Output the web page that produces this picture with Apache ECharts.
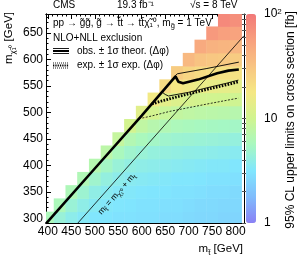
<!DOCTYPE html>
<html><head><meta charset="utf-8">
<script src="https://cdn.jsdelivr.net/npm/echarts@6/dist/echarts.min.js"></script>
<style>html,body{margin:0;padding:0;background:#fff}#c{width:305px;height:258px}</style>
</head><body><div id="c"></div>
<script>
// ---- data ----
const mStop = [400,425,450,475,500,525,550,575,600,625,650,675,700,725,750,775,800];
const mChiRows = [300,325,350,375,400,425,450,475,500,525,550,575,600,625,650,675,700];
// 95% CL upper limits [fb]; row i starts at column m_stop = m_chi + 100
const limitRows = [
  [6.0,4.5,3.8,3.4,3.2,3.1,3.0,3.0,2.9,2.9,2.8,2.8,2.7,2.6,2.6,2.5,2.5],
  [6.0,4.6,3.9,3.5,3.3,3.2,3.1,3.0,3.0,2.9,2.9,2.8,2.7,2.7,2.6,2.6],
  [6.1,4.8,4.0,3.6,3.4,3.3,3.2,3.1,3.1,3.0,3.0,2.9,2.8,2.8,2.7],
  [6.3,5.0,4.2,3.8,3.6,3.5,3.4,3.3,3.2,3.2,3.1,3.0,3.0,2.9],
  [6.8,5.3,4.5,4.1,3.9,3.8,3.7,3.6,3.5,3.4,3.3,3.3,3.2],
  [7.5,5.8,5.0,4.6,4.3,4.2,4.1,4.0,3.9,3.8,3.7,3.6],
  [8.5,6.6,5.8,5.3,5.0,4.8,4.7,4.6,4.5,4.4,4.3],
  [10.5,8.0,7.0,6.4,6.0,5.8,5.6,5.5,5.4,5.3],
  [13,10.5,9.0,8.3,7.9,7.6,7.4,7.2,7.0],
  [17,13.5,12,11,10.5,10.2,10,9.8],
  [22,18,16,15,14.5,14,13.5],
  [28,24,22,21,20,19.5],
  [38,32,30,29,28],
  [48,42,40,39],
  [62,56,54],
  [78,72],
  [88]
];
const obsLine  = [[396,290],[500,394],[600,494],[672,568],[678,558],[688,555],[720,562],[761,574],[785,579],[807,581]];
const obsUp    = [[671,569],[676,573],[739,583],[807,595]];
const obsDown  = [[644,538],[650,534],[657,531],[700,538],[746,548],[780,555],[806,561]];
const expLine  = [[622,516],[640,521],[661,526],[700,535],[746,545],[780,552],[806,558]];
const expDown  = [[594,488],[620,493],[660,502],[700,509],[746,517],[806,527]];
const kinLine  = [[464,291],[818,645]];
const xTickLabels = [400,450,500,550,600,650,700,750,800];
const yTickLabels = [300,350,400,450,500,550,600,650];
const zTickLabels = [0,1,2]; // log10 of 1, 10, 100 fb

// ---- build ----
const FONT = 'Liberation Sans';
const cells = [];
limitRows.forEach((row, i) => {
  row.forEach((v, j) => {
    cells.push([mStop[i + j], mChiRows[i], Math.log10(v)]);
  });
});
const xMinor = []; for (let v = 400; v <= 810; v += 10) xMinor.push(v);
const yMinor = []; for (let v = 300; v <= 680; v += 10) yMinor.push(v);
const zMinor = [];
[1,10].forEach(b => { for (let k = 1; k < 10; k++) zMinor.push(Math.log10(b * k)); });
zMinor.push(2);

const palette = ['#8a80f5','#80bcfc','#80e6fe','#a8f8c0','#d0f490','#f5e884','#f8c482','#f8a07e','#f27878'];

const XMIN = 396, XMAX = 818, YMIN = 291, YMAX = 686;
const black = '#000';
function xAx(pos, ticks, len, labels) {
  return {
    type: 'value', gridIndex: 0, position: pos, min: XMIN, max: XMAX,
    axisLine: { show: true, lineStyle: { color: black, width: 1 } },
    axisTick: { show: true, inside: true, length: len, customValues: ticks, lineStyle: { color: black, width: 1 } },
    axisLabel: labels ? { show: true, customValues: xTickLabels, color: black, fontFamily: FONT, fontSize: 12, margin: 3 } : { show: false },
    splitLine: { show: false }
  };
}
function yAx(pos, ticks, len, labels) {
  return {
    type: 'value', gridIndex: 0, position: pos, min: YMIN, max: YMAX,
    axisLine: { show: true, lineStyle: { color: black, width: 1 } },
    axisTick: ticks ? { show: true, inside: true, length: len, customValues: ticks, lineStyle: { color: black, width: 1 } } : { show: false },
    axisLabel: labels ? { show: true, customValues: yTickLabels, color: black, fontFamily: FONT, fontSize: 12, margin: 3 } : { show: false },
    splitLine: { show: false }
  };
}

const lineSeries = (data, width, type) => ({
  type: 'line', xAxisIndex: 0, yAxisIndex: 0, data: data, showSymbol: false, silent: true,
  lineStyle: { color: black, width: width, type: type || 'solid' }, z: 5
});

const chart = echarts.init(document.getElementById('c'), null, { renderer: 'canvas' });
const sub = (fs, lh) => ({ fontSize: fs, fontFamily: FONT, verticalAlign: 'bottom', lineHeight: lh, fill: black });
const T = (o) => Object.assign({ z: 100 }, o);
const LF = 10;
const option = {
  animation: false,
  backgroundColor: '#fff',
  grid: [
    { left: 46, top: 14, width: 198, height: 209 },
    { left: 246, top: 14, width: 10, height: 209 }
  ],
  xAxis: [
    xAx('bottom', xTickLabels, 5, true),
    xAx('bottom', xMinor, 2.5, false),
    xAx('top', xTickLabels, 5, false),
    xAx('top', xMinor, 2.5, false),
    { type: 'value', gridIndex: 1, show: false, min: 0, max: 1 }
  ],
  yAxis: [
    yAx('left', yTickLabels, 5, true),
    yAx('left', yMinor, 2.5, false),
    yAx('right', null, 0, false),
    {
      type: 'value', gridIndex: 1, position: 'left', min: 0, max: 2,
      axisLine: { show: false },
      axisTick: { show: true, inside: false, length: 4, customValues: zMinor, lineStyle: { color: '#555', width: 1 } },
      axisLabel: { show: false }, splitLine: { show: false }
    },
    {
      type: 'value', gridIndex: 1, position: 'right', min: 0, max: 2,
      axisLine: { show: false }, axisTick: { show: false }, splitLine: { show: false },
      axisLabel: {
        show: true, customValues: zTickLabels, margin: 8, color: black, fontFamily: FONT, fontSize: 12,
        formatter: v => v === 2 ? '10{s|2}' : (v === 1 ? '10' : '1'),
        rich: { s: { fontSize: 8, fontFamily: FONT, verticalAlign: 'top', color: black } }
      }
    }
  ],
  visualMap: {
    type: 'continuous', min: 0, max: 2, dimension: 2, seriesIndex: 0,
    left: 246, top: 14, itemWidth: 10, itemHeight: 209, padding: 0,
    calculable: false, showLabel: false, text: null, hoverLink: false,
    inRange: { color: palette }
  },
  series: [
    {
      type: 'custom', xAxisIndex: 0, yAxisIndex: 0, data: cells, clip: true, silent: true,
      encode: { x: 0, y: 1 },
      renderItem: function (params, api) {
        const x = api.value(0), y = api.value(1);
        const p0 = api.coord([x - 12.5, y + 12.5]);
        const p1 = api.coord([x + 12.5, y - 12.5]);
        return {
          type: 'rect',
          shape: { x: p0[0], y: p0[1], width: p1[0] - p0[0] + 0.5, height: p1[1] - p0[1] + 0.5 },
          style: { fill: api.visual('color') }
        };
      },
      z: 1
    },
    lineSeries(kinLine, 0.8),
    lineSeries(expDown, 0.8, [2, 1.5]),
    lineSeries(expLine, 2.8, [1.6, 1.4]),
    lineSeries(obsDown, 0.9),
    lineSeries(obsUp, 0.9),
    lineSeries(obsLine, 2.6)
  ],
  graphic: [
    T({ type: 'text', left: 53, top: 0, style: { text: 'CMS', fontFamily: FONT, fontSize: 10, fill: black } }),
    T({ type: 'text', left: 117, top: 0, style: { text: '19.3 fb⁻¹', fontFamily: FONT, fontSize: 10, fill: black } }),
    T({ type: 'text', left: 190, top: 0, style: { text: '√s = 8 TeV', fontFamily: FONT, fontSize: 10, fill: black } }),
    T({ type: 'text', x: 53, y: 23, style: {
        text: 'pp → g̃g̃, g̃ → t̃t → tt̄χ̃₁⁰, m{s|g̃} = 1 TeV', fontFamily: FONT, fontSize: LF, fill: black,
        verticalAlign: 'middle', lineHeight: 14, rich: { s: sub(7.5, 14) } } }),
    T({ type: 'text', x: 53, y: 38, style: { text: 'NLO+NLL exclusion', fontFamily: FONT, fontSize: LF, fill: black, verticalAlign: 'middle' } }),
    T({ type: 'line', shape: { x1: 53, y1: 48.5, x2: 69, y2: 48.5 }, style: { stroke: black, lineWidth: 0.9 } }),
    T({ type: 'line', shape: { x1: 53, y1: 51, x2: 69, y2: 51 }, style: { stroke: black, lineWidth: 2 } }),
    T({ type: 'line', shape: { x1: 53, y1: 53.5, x2: 69, y2: 53.5 }, style: { stroke: black, lineWidth: 0.9 } }),
    T({ type: 'text', x: 77, y: 51.5, style: { text: 'obs. ± 1σ theor. (Δφ)', fontFamily: FONT, fontSize: LF, fill: black, verticalAlign: 'middle' } }),
    T({ type: 'line', shape: { x1: 53, y1: 63, x2: 69, y2: 63 }, style: { stroke: black, lineWidth: 0.9, lineDash: [1, 1] } }),
    T({ type: 'line', shape: { x1: 53, y1: 65.5, x2: 69, y2: 65.5 }, style: { stroke: black, lineWidth: 2, lineDash: [1.3, 1] } }),
    T({ type: 'line', shape: { x1: 53, y1: 68, x2: 69, y2: 68 }, style: { stroke: black, lineWidth: 0.9, lineDash: [1, 1] } }),
    T({ type: 'text', x: 77, y: 65.5, style: { text: 'exp. ± 1σ exp. (Δφ)', fontFamily: FONT, fontSize: LF, fill: black, verticalAlign: 'middle' } }),
    T({ type: 'text', x: 117, y: 194, rotation: 48.5 * Math.PI / 180, style: {
        text: 'm{s|t̃} = m{s|χ̃₁⁰} + m{s|t}', fontFamily: FONT, fontSize: 8.5, fill: black,
        align: 'center', verticalAlign: 'middle', lineHeight: 12, rich: { s: sub(6.5, 12) } } }),
    T({ type: 'text', x: 243, y: 249, style: {
        text: 'm{s|t̃} [GeV]', fontFamily: FONT, fontSize: 11.5, fill: black,
        align: 'right', verticalAlign: 'middle', lineHeight: 16, rich: { s: sub(8, 16) } } }),
    T({ type: 'text', x: 9, y: 12, rotation: Math.PI / 2, style: {
        text: 'm{s|χ̃₁⁰} [GeV]', fontFamily: FONT, fontSize: 11.5, fill: black,
        align: 'right', verticalAlign: 'middle', lineHeight: 16, rich: { s: sub(8, 16) } } }),
    T({ type: 'text', x: 291, y: 120, rotation: Math.PI / 2, style: {
        text: '95% CL upper limits on cross section [fb]', fontFamily: FONT, fontSize: 12, fill: black,
        align: 'center', verticalAlign: 'middle' } })
  ]
};
chart.setOption(option);
</script>
</body></html>
